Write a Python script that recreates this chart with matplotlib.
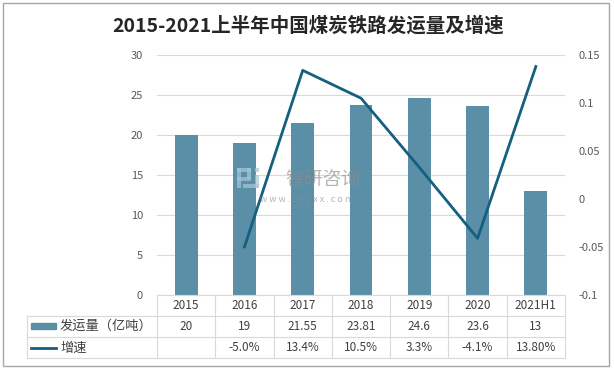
import matplotlib
matplotlib.use('Agg')
import matplotlib.pyplot as plt
from matplotlib.transforms import blended_transform_factory
from matplotlib.lines import Line2D
from matplotlib.patches import Rectangle

plt.rcParams['font.family'] = ['Noto Sans CJK SC', 'DejaVu Sans']

# 数据
years = ['2015', '2016', '2017', '2018', '2019', '2020', '2021H1']
volume = [20, 19, 21.55, 23.81, 24.6, 23.6, 13]
volume_labels = ['20', '19', '21.55', '23.81', '24.6', '23.6', '13']
growth = [None, -0.050, 0.134, 0.105, 0.033, -0.041, 0.138]
growth_labels = ['', '-5.0%', '13.4%', '10.5%', '3.3%', '-4.1%', '13.80%']
series_names = ['发运量（亿吨）', '增速']

bar_color = '#5B8FA8'
line_color = '#155F80'
grid_color = '#D9D9D9'
text_color = '#595959'

W, H = 614, 373
fig = plt.figure(figsize=(W / 100, H / 100), dpi=100)

def fx(px):
    return px / W

def fy(py):
    return 1 - py / H

# 绘图区 (像素)
left, right, top, bottom = 157, 565, 55, 295
ax = fig.add_axes([fx(left), fy(bottom), fx(right - left), (bottom - top) / H])
x = list(range(len(years)))
ax.bar(x, volume, width=0.39, color=bar_color, zorder=2)
ax.set_xlim(-0.5, len(years) - 0.5)
ax.set_ylim(0, 30)
ax.set_yticks(range(0, 31, 5))
ax.grid(axis='y', color=grid_color, linewidth=0.8, zorder=0)
ax.set_xticks([])
ax.tick_params(axis='y', length=0, labelsize=8, labelcolor=text_color, pad=10)
for s in ax.spines.values():
    s.set_visible(False)

ax2 = ax.twinx()
gx = [i for i, g in zip(x, growth) if g is not None]
gy = [g for g in growth if g is not None]
ax2.plot(gx, gy, color=line_color, linewidth=2, zorder=3)
ax2.set_ylim(-0.1, 0.15)
ax2.set_yticks([-0.1, -0.05, 0, 0.05, 0.1, 0.15])
ax2.set_yticklabels(['-0.1', '-0.05', '0', '0.05', '0.1', '0.15'])
ax2.tick_params(axis='y', length=0, labelsize=8, labelcolor=text_color, pad=10)
for s in ax2.spines.values():
    s.set_visible(False)

# 标题
fig.text(fx(308), fy(26), '2015-2021上半年中国煤炭铁路发运量及增速',
         ha='center', va='center', fontsize=14, fontweight='bold', color='#262626')

# 数据表
trans = blended_transform_factory(ax.transData, fig.transFigure)
tab_left = 27
rows = [295, 315.7, 337.3, 358.3]
lw = 0.8
for i in range(len(years) + 1):
    fig.add_artist(Line2D([i - 0.5, i - 0.5], [fy(rows[0]), fy(rows[3])],
                          transform=trans, color=grid_color, linewidth=lw))
fig.add_artist(Line2D([fx(tab_left), fx(tab_left)], [fy(rows[1]), fy(rows[3])],
                      color=grid_color, linewidth=lw))
fig.add_artist(Line2D([fx(left), fx(right)], [fy(rows[0]), fy(rows[0])],
                      color=grid_color, linewidth=lw))
for r in rows[1:]:
    fig.add_artist(Line2D([fx(tab_left), fx(right)], [fy(r), fy(r)],
                          color=grid_color, linewidth=lw))

row_y = [(rows[k] + rows[k + 1]) / 2 for k in range(3)]
for i in x:
    fig.text(i, fy(row_y[0]), years[i], transform=trans, ha='center', va='center',
             fontsize=8.5, color='#404040')
    fig.text(i, fy(row_y[1]), volume_labels[i], transform=trans, ha='center', va='center',
             fontsize=8.5, color='#404040')
    fig.text(i, fy(row_y[2]), growth_labels[i], transform=trans, ha='center', va='center',
             fontsize=8.5, color='#404040')

# 图例
fig.add_artist(Rectangle((fx(31), fy(328.5)), fx(25), 5.5 / H, color=bar_color))
fig.add_artist(Line2D([fx(31), fx(56)], [fy(348), fy(348)], color=line_color, linewidth=2))
fig.text(fx(60), fy(row_y[1]), series_names[0], ha='left', va='center', fontsize=9.5, color='#404040')
fig.text(fx(60), fy(row_y[2]), series_names[1], ha='left', va='center', fontsize=9.5, color='#404040')

# 水印 (logo 用简单图形代替)
logo_c = '#A9C4D8'
for (px, py, pw, ph) in [(237, 168, 4, 20), (237, 168, 14, 4), (247, 168, 4, 11), (237, 177, 14, 4),
                         (255, 168, 4, 4), (255, 175, 4, 13), (243, 184, 16, 4)]:
    fig.add_artist(Rectangle((fx(px), fy(py + ph)), fx(pw), ph / H, color=logo_c, alpha=0.7,
                             linewidth=0, zorder=10))
fig.text(fx(323), fy(179), '智研咨询', ha='center', va='center', fontsize=13.5, color='#8C8C8C',
         alpha=0.65, zorder=10)
fig.text(fx(307), fy(200), 'w w w . c h y x x . c o m', ha='center', va='center', fontsize=6.5,
         color='#8C8C8C', alpha=0.65, zorder=10)

# 外框
fig.add_artist(Rectangle((fx(3), fy(366)), fx(606), 363 / H, fill=False,
                         edgecolor='#A6A6A6', linewidth=1))

fig.savefig('out.png', dpi=100)
